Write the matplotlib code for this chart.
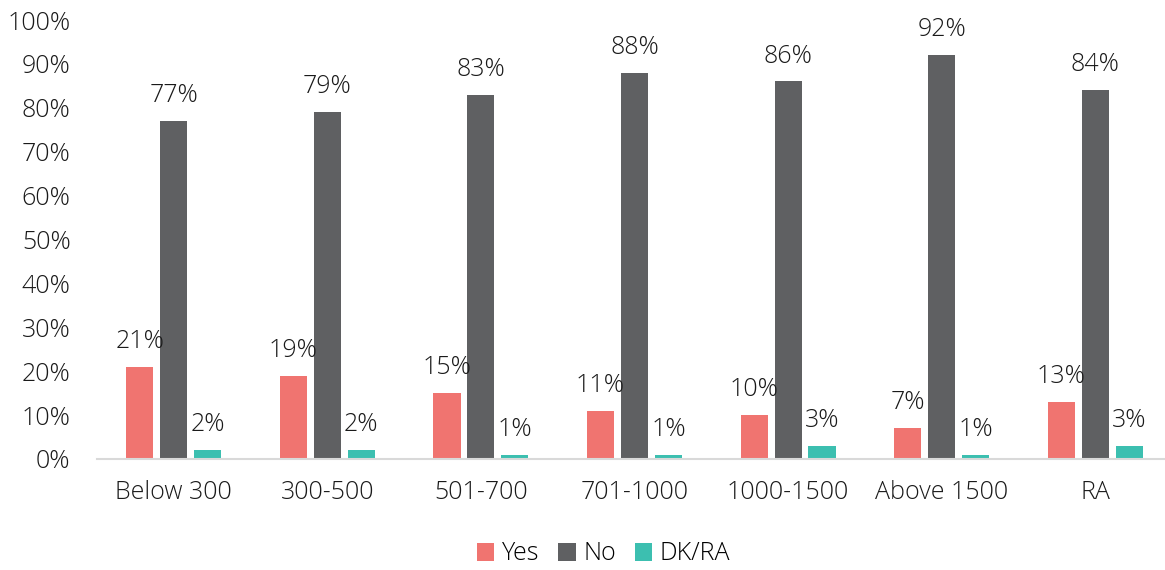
import numpy as np
import matplotlib.pyplot as plt

plt.rcParams['font.family'] = ['Open Sans', 'DejaVu Sans']
plt.rcParams['font.weight'] = 'light'

categories = ['Below 300', '300-500', '501-700', '701-1000', '1000-1500', 'Above 1500', 'RA']
yes = [21, 19, 15, 11, 10, 7, 13]
no = [77, 79, 83, 88, 86, 92, 84]
dkra = [2, 2, 1, 1, 3, 1, 3]

series = [('Yes', yes, '#F07470'), ('No', no, '#5F6062'), ('DK/RA', dkra, '#3CBFB0')]

fig = plt.figure(figsize=(11.65, 5.7), dpi=100)
ax = fig.add_axes([97 / 1165, 1 - 459 / 570, 1075 / 1165, 439 / 570])

x = np.arange(len(categories))
width = 0.176
step = 0.221
for i, (name, vals, col) in enumerate(series):
    pos = x + (i - 1) * step
    ax.bar(pos, vals, width, color=col, label=name, zorder=2)
    for px, v in zip(pos, vals):
        ax.text(px, v + 4.3, f'{v}%', ha='center', va='baseline', fontsize=18, color='#1a1a1a', zorder=3)

ax.set_xlim(-0.5, len(categories) - 0.5)
ax.set_ylim(0, 100)
ax.set_yticks(range(0, 101, 10))
ax.set_yticklabels([f'{t}%' for t in range(0, 101, 10)], fontsize=18, color='#1a1a1a')
ax.set_xticks(x)
ax.set_xticklabels(categories, fontsize=18, color='#1a1a1a')
ax.tick_params(axis='both', length=0)
ax.tick_params(axis='x', pad=15)
ax.tick_params(axis='y', pad=19)
for s in ['top', 'right', 'left']:
    ax.spines[s].set_visible(False)
ax.spines['bottom'].set_color('#d9d9d9')
ax.spines['bottom'].set_linewidth(1.5)

fig.legend(loc='center', bbox_to_anchor=(0.518, 1 - 554 / 570), ncol=3, frameon=False,
           fontsize=18, handlelength=0.7, handleheight=0.7, columnspacing=0.75, handletextpad=0.3)

fig.savefig('out.png', dpi=100)
